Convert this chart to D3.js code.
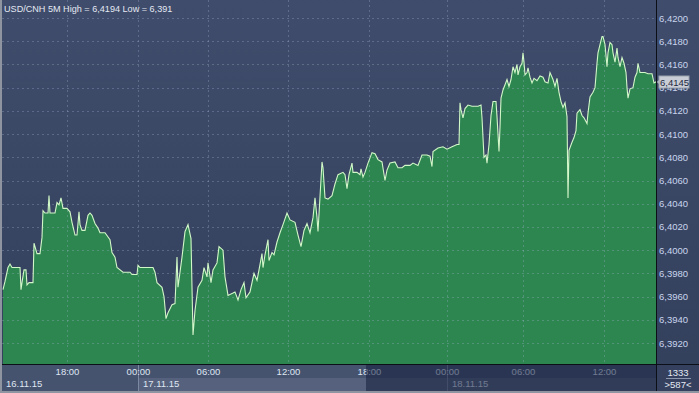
<!DOCTYPE html>
<html>
<head>
<meta charset="utf-8">
<script src="https://d3js.org/d3.v7.min.js"></script>
<style>
  body { margin: 0; background: #8e95a1; }
  text { font-family: "Liberation Sans", Arial, sans-serif; }
</style>
</head>
<body>
<div id="chart"></div>
<script>
var width = 699, height = 393;
var plotLeft = 2, plotRight = 656, plotTop = 0, plotBottom = 364;

// 5M bar index along the chart and close price
var bars = [0,2,5,7,9,17,18,19,21,23,24,26,30,31,34,37,39,40,42,45,46,47,52,54,56,58,60,64,67,69,72,74,76,77,79,82,85,87,89,92,95,97,102,107,109,112,114,120,127,129,134,135,137,150,152,154,159,161,163,165,169,172,174,175,179,182,185,188,189,190,192,195,199,201,204,205,208,210,214,216,220,222,225,230,232,235,238,241,243,247,251,254,256,259,260,262,265,266,269,271,274,277,280,284,287,292,295,298,301,304,307,310,312,314,315,317,319,320,322,325,329,332,335,340,342,344,346,349,350,354,357,358,360,362,365,369,372,375,379,382,384,387,392,395,399,402,407,410,415,419,424,427,429,430,435,440,444,449,454,456,457,458,460,462,465,469,475,478,479,480,481,483,484,486,488,490,493,494,496,497,498,500,504,506,508,510,512,514,515,517,519,520,521,522,524,525,527,529,531,534,537,540,542,545,547,550,552,554,556,558,560,562,564,565,566,569,571,573,574,577,579,581,584,585,587,590,592,594,595,597,599,600,602,604,605,607,609,610,612,614,615,617,619,621,623,624,625,627,630,632,634,635,637,642,645,649,651,653];
var prices = [6.3966,6.3973,6.3985,6.3988,6.3985,6.3985,6.3966,6.3972,6.3983,6.3983,6.3970,6.3972,6.3972,6.4006,6.3997,6.3997,6.4011,6.4034,6.4032,6.4032,6.4047,6.4032,6.4032,6.4041,6.4039,6.4045,6.4036,6.4036,6.4033,6.4024,6.4013,6.4013,6.4033,6.4022,6.4017,6.4017,6.4030,6.4032,6.4030,6.4023,6.4019,6.4015,6.4015,6.4009,6.3998,6.3994,6.3985,6.3981,6.3981,6.3979,6.3979,6.3987,6.3985,6.3985,6.3981,6.3972,6.3968,6.3960,6.3941,6.3946,6.3953,6.3954,6.3994,6.3968,6.3994,6.4016,6.4022,6.4010,6.3968,6.3927,6.3948,6.3968,6.3974,6.3985,6.3977,6.3989,6.3972,6.3983,6.3989,6.4003,6.4000,6.3977,6.3961,6.3963,6.3964,6.3957,6.3966,6.3972,6.3959,6.3964,6.3980,6.3974,6.3983,6.3997,6.3985,6.3996,6.4009,6.3991,6.3998,6.3996,6.4007,6.4015,6.4022,6.4032,6.4026,6.4024,6.4013,6.4003,6.4017,6.4023,6.4015,6.4028,6.4045,6.4028,6.4016,6.4046,6.4076,6.4071,6.4045,6.4044,6.4047,6.4057,6.4065,6.4067,6.4065,6.4053,6.4065,6.4075,6.4067,6.4067,6.4065,6.4070,6.4063,6.4067,6.4075,6.4084,6.4083,6.4078,6.4076,6.4060,6.4069,6.4075,6.4076,6.4071,6.4071,6.4073,6.4073,6.4075,6.4073,6.4082,6.4082,6.4081,6.4072,6.4085,6.4088,6.4089,6.4087,6.4089,6.4091,6.4091,6.4127,6.4121,6.4114,6.4122,6.4125,6.4124,6.4124,6.4125,6.4114,6.4097,6.4080,6.4082,6.4075,6.4091,6.4116,6.4128,6.4128,6.4115,6.4085,6.4106,6.4131,6.4138,6.4147,6.4141,6.4147,6.4158,6.4153,6.4160,6.4151,6.4158,6.4161,6.4170,6.4162,6.4151,6.4153,6.4157,6.4149,6.4144,6.4148,6.4146,6.4150,6.4149,6.4145,6.4144,6.4153,6.4147,6.4141,6.4148,6.4136,6.4128,6.4123,6.4127,6.4115,6.4045,6.4086,6.4093,6.4097,6.4103,6.4118,6.4121,6.4116,6.4114,6.4109,6.4118,6.4132,6.4136,6.4140,6.4161,6.4170,6.4177,6.4184,6.4184,6.4177,6.4158,6.4170,6.4179,6.4177,6.4170,6.4162,6.4174,6.4166,6.4158,6.4166,6.4161,6.4153,6.4140,6.4131,6.4139,6.4140,6.4149,6.4153,6.4161,6.4153,6.4153,6.4152,6.4152,6.4144,6.4145];

var yTicks = [6.392,6.394,6.396,6.398,6.400,6.402,6.404,6.406,6.408,6.410,6.412,6.414,6.416,6.418,6.420];
var timeBars = [64,135,205,285,366,444,520,601];
var timeLabels = ["18:00","00:00","06:00","12:00","18:00","00:00","06:00","12:00"];
var dateBars = [-2,135,444];
var dateLabels = ["16.11.15","17.11.15","18.11.15"];
var lastPrice = 6.4145;
var titleText = "USD/CNH 5M High = 6,4194 Low = 6,391";

var data = bars.map(function(b, i) { return {bar: b, price: prices[i]}; });

var x = d3.scaleLinear().domain([0, 653]).range([3, 656]);
var y = d3.scaleLinear().domain([6.392, 6.420]).range([343, 18]);
var fmt = function(d) { return d3.format(".4f")(d).replace(".", ","); };

var svg = d3.select("#chart").append("svg")
    .attr("width", width)
    .attr("height", height);

var defs = svg.append("defs");
var grad = defs.append("linearGradient").attr("id", "bg")
    .attr("x1", 0).attr("y1", 0).attr("x2", 0).attr("y2", 1);
grad.append("stop").attr("offset", "0%").attr("stop-color", "#3f4c6b");
grad.append("stop").attr("offset", "100%").attr("stop-color", "#33405c");
defs.append("clipPath").attr("id", "plotClip").append("rect")
    .attr("x", plotLeft).attr("y", plotTop)
    .attr("width", plotRight - plotLeft).attr("height", plotBottom - plotTop);

// frame
svg.append("rect").attr("width", width).attr("height", height).attr("fill", "#8e95a1");
svg.append("rect").attr("x", plotLeft).attr("y", 0)
    .attr("width", width - plotLeft).attr("height", 391)
    .attr("fill", "url(#bg)");

// price area
var plot = svg.append("g").attr("clip-path", "url(#plotClip)");

plot.append("path")
    .datum(data)
    .attr("fill", "#2d8550")
    .attr("d", d3.area()
        .x(function(d) { return x(d.bar); })
        .y0(plotBottom)
        .y1(function(d) { return y(d.price); }));

// grid
plot.append("g").selectAll("line.h")
    .data(yTicks).enter().append("line")
    .attr("x1", plotLeft).attr("x2", plotRight)
    .attr("y1", function(d) { return Math.round(y(d)) + 0.5; })
    .attr("y2", function(d) { return Math.round(y(d)) + 0.5; })
    .attr("stroke", "#a9b8d6").attr("stroke-opacity", 0.3)
    .attr("stroke-dasharray", "2,3");

plot.append("g").selectAll("line.v")
    .data(timeBars).enter().append("line")
    .attr("y1", plotTop).attr("y2", plotBottom)
    .attr("x1", function(d) { return Math.round(x(d)) + 0.5; })
    .attr("x2", function(d) { return Math.round(x(d)) + 0.5; })
    .attr("stroke", "#a9b8d6").attr("stroke-opacity", 0.3)
    .attr("stroke-dasharray", "2,3");

plot.append("path")
    .datum(data)
    .attr("fill", "none")
    .attr("stroke", "#d2f7c8")
    .attr("stroke-width", 1.1)
    .attr("d", d3.line()
        .x(function(d) { return x(d.bar); })
        .y(function(d) { return y(d.price); }));

// title
svg.append("text")
    .attr("x", 4).attr("y", 11.5)
    .attr("font-size", 9.1)
    .attr("fill", "#e4e9f3")
    .text(titleText);

// right price axis
var yAxis = svg.append("g")
    .attr("transform", "translate(656,0)")
    .call(d3.axisRight(y).tickValues(yTicks).tickSize(0).tickPadding(3).tickFormat(fmt));
yAxis.select(".domain").remove();
yAxis.selectAll("text")
    .attr("font-size", 9.5)
    .attr("fill", "#c9d5ee");

// bottom time panel
var bottom = svg.append("g");
bottom.append("rect").attr("x", plotLeft).attr("y", plotBottom)
    .attr("width", plotRight - plotLeft).attr("height", 27)
    .attr("fill", "#46536f");
bottom.append("rect").attr("x", x(dateBars[1])).attr("y", 378)
    .attr("width", plotRight - x(dateBars[1])).attr("height", 13)
    .attr("fill", "#56627d");
bottom.selectAll("line.sep")
    .data(dateBars.slice(1)).enter().append("line")
    .attr("x1", function(d) { return Math.round(x(d)) + 0.5; })
    .attr("x2", function(d) { return Math.round(x(d)) + 0.5; })
    .attr("y1", plotBottom).attr("y2", 391)
    .attr("stroke", "#7c88a2");

var xAxis = bottom.append("g")
    .attr("transform", "translate(0," + plotBottom + ")")
    .call(d3.axisBottom(x).tickValues(timeBars).tickSize(0).tickPadding(4)
        .tickFormat(function(d, i) { return timeLabels[i]; }));
xAxis.select(".domain").remove();
xAxis.selectAll("text")
    .attr("font-size", 9.5)
    .attr("fill", "#dfe6f2");

bottom.selectAll("text.date")
    .data(dateLabels).enter().append("text")
    .attr("class", "date")
    .attr("x", function(d, i) { return x(dateBars[i]) + 5; })
    .attr("y", 387)
    .attr("font-size", 9.5)
    .attr("fill", "#dfe6f2")
    .text(function(d) { return d; });

// dimmed part of the time panel
bottom.append("rect").attr("x", 366).attr("y", plotBottom)
    .attr("width", plotRight - 366).attr("height", 27)
    .attr("fill", "rgb(18,27,59)").attr("fill-opacity", 0.54);

// bar counter box
var box = svg.append("g");
box.append("rect").attr("x", 657).attr("y", plotBottom)
    .attr("width", 42).attr("height", 27).attr("fill", "#34405e");
box.append("text").attr("x", 678).attr("y", 375.5).attr("text-anchor", "middle")
    .attr("font-size", 9.5).attr("fill", "#e4e9f3").text("1333");
box.append("line").attr("x1", 666).attr("x2", 691).attr("y1", 378.5).attr("y2", 378.5)
    .attr("stroke", "#8c96ad");
box.append("text").attr("x", 678).attr("y", 388).attr("text-anchor", "middle")
    .attr("font-size", 9.5).attr("fill", "#e4e9f3").text(">587<");

// separators
svg.append("line").attr("x1", 656.5).attr("x2", 656.5).attr("y1", 0).attr("y2", 391)
    .attr("stroke", "#0c0f16");
svg.append("line").attr("x1", plotLeft).attr("x2", width).attr("y1", plotBottom + 0.5).attr("y2", plotBottom + 0.5)
    .attr("stroke", "#0c0f16");

// last price tag
var tagY = Math.round(y(lastPrice));
var tag = svg.append("g");
tag.append("path")
    .attr("d", "M657," + tagY + "L660," + (tagY - 3) + "L660," + (tagY + 3) + "Z")
    .attr("fill", "#c9ced6");
tag.append("rect").attr("x", 659).attr("y", tagY - 6)
    .attr("width", 30).attr("height", 12)
    .attr("fill", "#c9ced6").attr("stroke", "#9aa1ad");
tag.append("text").attr("x", 660).attr("y", tagY + 3.5)
    .attr("font-size", 9.5).attr("fill", "#1d2740")
    .text(fmt(lastPrice));
</script>
</body>
</html>
